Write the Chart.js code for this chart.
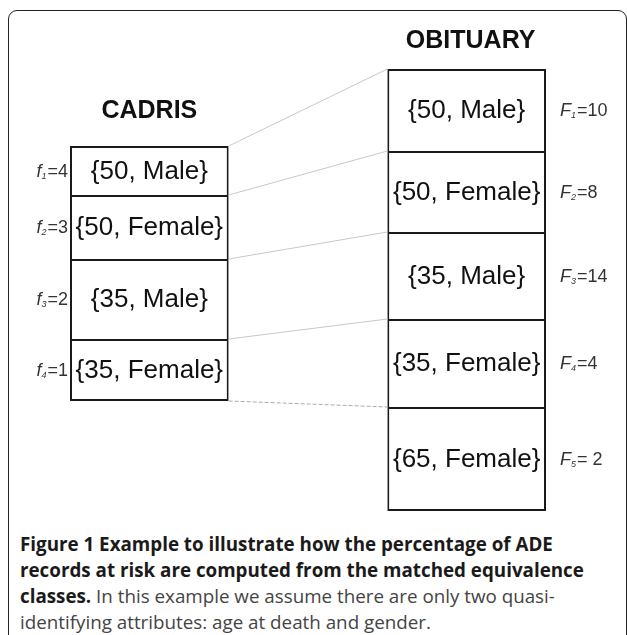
<!DOCTYPE html>
<html>
<head>
<meta charset="utf-8">
<title>Figure 1</title>
<script src="https://cdn.jsdelivr.net/npm/chart.js"></script>
<style>
  html, body { margin: 0; padding: 0; background: #fff; }
  #page { position: relative; width: 627px; height: 635px; overflow: hidden; background: #fff; }
  #frame { position: absolute; left: 8px; top: 10px; width: 617px; height: 700px;
           border: 1.6px solid #222; border-radius: 9px; }
  #chartBox { position: absolute; left: 0; top: 0; width: 627px; height: 520px; }
  #caption { position: absolute; left: 20px; top: 531px; width: 600px;
             font-family: "Open Sans", sans-serif; line-height: 26px; color: #444; white-space: nowrap; }
  #caption b { color: #1a1a1a; font-weight: 700; }
</style>
</head>
<body>
<div id="page">
  <div id="frame"></div>
  <div id="chartBox"><canvas id="myChart" width="627" height="520"></canvas></div>
  <div id="caption">
    <b>Figure 1 Example to illustrate how the percentage of ADE</b><br>
    <b>records at risk are computed from the matched equivalence</b><br>
    <b>classes.</b> In this example we assume there are only two quasi-<br>
    identifying attributes: age at death and gender.
  </div>
</div>
<script>
// columns of the diagram (middle one is just the gap)
var columns = ['CADRIS', '', 'OBITUARY'];

// CADRIS equivalence classes
var cadrisClasses = ['{50, Male}', '{50, Female}', '{35, Male}', '{35, Female}'];
var cadrisFreq = ['4', '3', '2', '1'];
var cadrisStart = 77;
var cadrisHeights = [49, 64, 80, 62];

// OBITUARY equivalence classes
var obitClasses = ['{50, Male}', '{50, Female}', '{35, Male}', '{35, Female}', '{65, Female}'];
var obitFreq = ['10', '8', '14', '4', ' 2'];
var obitStart = 0;
var obitHeights = [82, 81, 87, 88, 104];

var yMax = 442;

function edges(start, heights) {
  var e = [start];
  for (var i = 0; i < heights.length; i++) e.push(e[i] + heights[i]);
  return e;
}
var cadrisEdges = edges(cadrisStart, cadrisHeights);
var obitEdges = edges(obitStart, obitHeights);

function cellSets(col, names, ed) {
  var out = [];
  for (var i = 0; i < names.length; i++) {
    var d = [null, null, null];
    d[col] = [ed[i], ed[i + 1]];
    out.push({
      label: columns[col] + ' ' + names[i],
      data: d,
      col: col,
      cell: i,
      grouped: false,
      barPercentage: 1,
      categoryPercentage: 1,
      backgroundColor: '#ffffff',
      borderColor: '#1a1a1a',
      borderSkipped: false,
      borderWidth: { top: 2, left: 2, right: 2, bottom: i == names.length - 1 ? 2 : 0 },
      inflateAmount: 0
    });
  }
  return out;
}
var datasets = cellSets(0, cadrisClasses, cadrisEdges).concat(cellSets(2, obitClasses, obitEdges));

// draws the class text, the titles, the f/F labels and the linking lines
var diagramText = {
  id: 'diagramText',
  afterDatasetsDraw: function(chart) {
    var c = chart.ctx;
    var ys = chart.scales.y;
    c.save();
    c.textAlign = 'center';
    c.textBaseline = 'middle';
    c.fillStyle = '#111';
    c.font = '26px "Liberation Sans", Arial, sans-serif';
    var firstEl = [null, null, null];
    chart.data.datasets.forEach(function(ds, k) {
      var el = chart.getDatasetMeta(k).data[ds.col];
      if (!firstEl[ds.col]) firstEl[ds.col] = el;
      var names = ds.col == 0 ? cadrisClasses : obitClasses;
      c.fillText(names[ds.cell], el.x, (el.y + el.base) / 2 + 1);
    });

    // column titles
    c.font = 'bold 25px "Liberation Sans", Arial, sans-serif';
    c.textBaseline = 'alphabetic';
    c.fillStyle = '#111';
    var gap = [28, 21];
    c.fillText(columns[0], firstEl[0].x, ys.getPixelForValue(cadrisStart) - gap[0]);
    c.fillText(columns[2], firstEl[2].x + 4, ys.getPixelForValue(obitStart) - gap[1]);

    // frequency labels
    function freqLabel(letter, idx, val, x, y, alignRight) {
      c.textBaseline = 'alphabetic';
      c.textAlign = 'left';
      var fBig = 'italic 18px "Liberation Sans", Arial, sans-serif';
      var fSub = 'italic 9px "Liberation Sans", Arial, sans-serif';
      var fReg = '18px "Liberation Sans", Arial, sans-serif';
      c.font = fBig; var w1 = c.measureText(letter).width;
      c.font = fSub; var w2 = c.measureText(idx).width;
      c.font = fReg; var w3 = c.measureText('=' + val).width;
      var x0 = alignRight ? x - (w1 + w2 + 1 + w3) : x;
      var base = y + 6;
      c.fillStyle = '#333';
      c.font = fBig; c.fillText(letter, x0, base);
      c.font = fSub; c.fillText(idx, x0 + w1, base + 2);
      c.font = fReg; c.fillText('=' + val, x0 + w1 + w2 + 1, base);
    }
    var ce = firstEl[0], oe = firstEl[2];
    for (var i = 0; i < cadrisClasses.length; i++) {
      var yc = (ys.getPixelForValue(cadrisEdges[i]) + ys.getPixelForValue(cadrisEdges[i + 1])) / 2;
      freqLabel('f', String(i + 1), cadrisFreq[i], ce.x - ce.width / 2 - 2, yc, true);
    }
    for (var j = 0; j < obitClasses.length; j++) {
      var yo = (ys.getPixelForValue(obitEdges[j]) + ys.getPixelForValue(obitEdges[j + 1])) / 2;
      freqLabel('F', String(j + 1), obitFreq[j], oe.x + oe.width / 2 + 14, yo, false);
    }

    // lines linking the two tables
    var xa = ce.x + ce.width / 2, xb = oe.x - oe.width / 2;
    for (var m = 0; m < cadrisEdges.length; m++) {
      var last = m == cadrisEdges.length - 1;
      c.beginPath();
      c.lineWidth = 1;
      c.strokeStyle = last ? '#aaaaaa' : '#c8c8c8';
      c.setLineDash(last ? [4, 2] : []);
      c.moveTo(xa, ys.getPixelForValue(cadrisEdges[m]));
      c.lineTo(xb, ys.getPixelForValue(obitEdges[m]));
      c.stroke();
    }
    c.restore();
  }
};

window.onload = function() {
  // fit caption so the second line spans like the original
  var cap = document.getElementById('caption');
  var mc = document.createElement('canvas').getContext('2d');
  mc.font = '700 20px "Open Sans"';
  var w = mc.measureText('records at risk are computed from the matched equivalence').width;
  cap.style.fontSize = (20 * 564 / w).toFixed(2) + 'px';

  new Chart(document.getElementById('myChart'), {
    type: 'bar',
    data: { labels: columns, datasets: datasets },
    options: {
      responsive: false,
      animation: false,
      devicePixelRatio: 1,
      layout: { padding: { left: 70, right: 81, top: 69, bottom: 9 } },
      plugins: { legend: { display: false }, tooltip: { enabled: false } },
      scales: {
        x: { display: false, offset: true },
        y: { display: false, min: 0, max: yMax, reverse: true }
      }
    },
    plugins: [diagramText]
  });
};
</script>
</body>
</html>
